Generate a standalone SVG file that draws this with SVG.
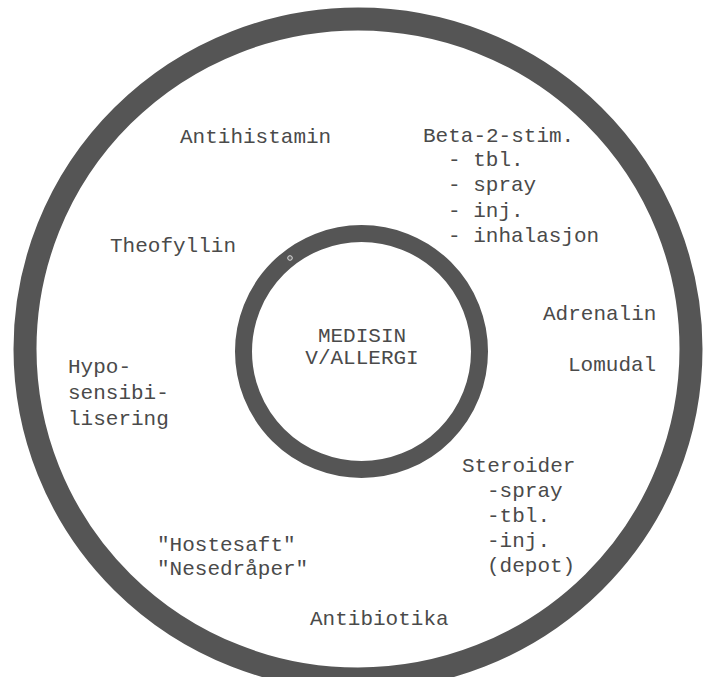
<svg xmlns="http://www.w3.org/2000/svg" width="704" height="677" viewBox="0 0 704 677">
<style>
.ring{fill:none;stroke:#555;}
.t{font-family:"Liberation Mono","DejaVu Sans Mono",monospace;font-size:21px;fill:#4a4a4a;}
.c{text-anchor:middle;}
</style>
<rect width="704" height="677" fill="#fff"/>
<g id="rings">
<ellipse id="outer-ring" class="ring" cx="358" cy="349" rx="333" ry="330" stroke-width="23"/>
<circle id="inner-ring" class="ring" cx="361.5" cy="351.5" r="118" stroke-width="17"/>
<circle cx="290" cy="258" r="2.3" fill="#666" stroke="#ddd" stroke-width="1"/>
</g>
<g id="center"><text class="t c" x="362" y="342">MEDISIN</text><text class="t c" x="362" y="364">V/ALLERGI</text></g>
<g id="antihistamin"><text class="t" x="180" y="143">Antihistamin</text></g>
<g id="beta2">
<text class="t" x="423" y="142">Beta-2-stim.</text>
<text class="t" x="448" y="166">- tbl.</text>
<text class="t" x="448" y="191">- spray</text>
<text class="t" x="448" y="217">- inj.</text>
<text class="t" x="448" y="242">- inhalasjon</text>
</g>
<g id="theofyllin"><text class="t" x="110" y="252">Theofyllin</text></g>
<g id="adrenalin"><text class="t" x="543" y="320">Adrenalin</text></g>
<g id="lomudal"><text class="t" x="568" y="371">Lomudal</text></g>
<g id="hyposensibilisering">
<text class="t" x="68" y="373">Hypo-</text>
<text class="t" x="68" y="399">sensibi-</text>
<text class="t" x="68" y="425">lisering</text>
</g>
<g id="steroider">
<text class="t" x="462" y="472">Steroider</text>
<text class="t" x="487" y="497">-spray</text>
<text class="t" x="487" y="522">-tbl.</text>
<text class="t" x="487" y="547">-inj.</text>
<text class="t" x="487" y="572">(depot)</text>
</g>
<g id="hostesaft">
<text class="t" x="157" y="551">"Hostesaft"</text>
<text class="t" x="157" y="575">"Nesedråper"</text>
</g>
<g id="antibiotika"><text class="t" x="310" y="625">Antibiotika</text></g>
<g id="connectors"/>
</svg>
